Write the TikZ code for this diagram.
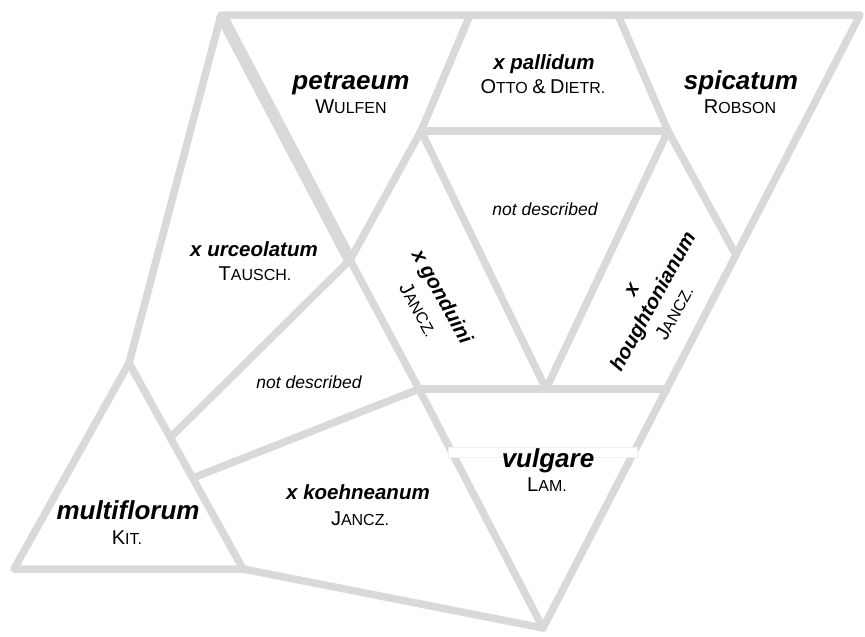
\documentclass[tikz,border=0pt]{standalone}
\usepackage{fontspec}
\setmainfont{Liberation Sans}
\definecolor{edgegray}{RGB}{217,217,217}
\newcommand\auth[2]{{\fontsize{20}{22}\selectfont #1}{\fontsize{16}{18}\selectfont #2}}
\newcommand\hyb[1]{{\fontsize{20.5}{24}\selectfont\bfseries\itshape #1}}

\begin{document}
\begin{tikzpicture}[x=1pt,y=-1pt,
  edge/.style={draw=edgegray,line width=7.5pt,line cap=round,line join=round},
  species/.style={anchor=base,font=\fontsize{26}{30}\selectfont\bfseries\itshape},
  hybrid/.style={anchor=base,font=\fontsize{20.5}{24}\selectfont\bfseries\itshape},
  author/.style={anchor=base,font=\fontsize{16}{18}\selectfont},
  nodesc/.style={anchor=base,font=\fontsize{17.5}{20}\selectfont\itshape}]
\useasboundingbox (0,0) rectangle (865,637);

\coordinate (tl) at (221,15);
\coordinate (ta) at (470,15);
\coordinate (tb) at (618,15);
\coordinate (tr) at (860,15);
\coordinate (ml) at (421,131);
\coordinate (mr) at (668,131);
\coordinate (ur) at (350,260);
\coordinate (sr) at (736,255);
\coordinate (vl) at (419,389);
\coordinate (hb) at (546,389);
\coordinate (vr) at (667,389);
\coordinate (bt) at (543,628);
\coordinate (lm) at (129,363);
\coordinate (ln) at (171,437);
\coordinate (lk) at (193,478);
\coordinate (mb) at (14,569);
\coordinate (mc) at (243,569);

\draw[edge,line width=12pt,line cap=butt] (tl) -- (ur);
\draw[edge] (tl) -- (tr) -- (bt) -- (mc) -- (mb) -- (lm) -- cycle;
\draw[edge] (lm) -- (mc);
\draw[edge] (ur) -- (vl) -- (bt);
\draw[edge] (ta) -- (ml) -- (ur);
\draw[edge] (tb) -- (mr) -- (sr);
\draw[edge] (ml) -- (mr);
\draw[edge] (ml) -- (hb) -- (mr);
\draw[edge] (vl) -- (vr);
\draw[edge] (ur) -- (ln);
\draw[edge] (lk) -- (vl);
\fill[white,draw=edgegray!40,line width=0.4pt] (448,447) rectangle (637,457);

\node[species] (petraeum) at (351,89) {petraeum};
\node[author] (petraeumA) at (351,113) {\auth{W}{ULFEN}};
\node[hybrid] (pallidum) at (544,69) {x pallidum};
\node[author] (pallidumA) at (543,93) {\auth{O}{TTO} \auth{\&}{} \auth{D}{IETR.}};
\node[species] (spicatum) at (741,89) {spicatum};
\node[author] (spicatumA) at (740,113) {\auth{R}{OBSON}};
\node[nodesc] (nd1) at (545,215) {not described};
\node[hybrid] (urceolatum) at (254,256) {x urceolatum};
\node[author] (urceolatumA) at (255,280) {\auth{T}{AUSCH.}};
\node[nodesc] (nd2) at (309,388) {not described};
\node[species] (multiflorum) at (128,519) {multiflorum};
\node[author] (multiflorumA) at (127,544) {\auth{K}{IT.}};
\node[hybrid] (koehneanum) at (358,499) {x koehneanum};
\node[author] (koehneanumA) at (360,525) {\auth{J}{ANCZ.}};
\node[species] (vulgare) at (548,467) {vulgare};
\node[author] (vulgareA) at (547,491) {\auth{L}{AM.}};
\node[align=center,rotate=-61,font=\fontsize{16}{27}\selectfont] (gonduini) at (431,303)
  {\hyb{x gonduini}\\\auth{J}{ANCZ.}};
\node[align=center,rotate=61,font=\fontsize{16}{24.5}\selectfont] (houghtonianum) at (654,302)
  {\hyb{x}\\\hyb{houghtonianum}\\\auth{J}{ANCZ.}};
\end{tikzpicture}
\end{document}
